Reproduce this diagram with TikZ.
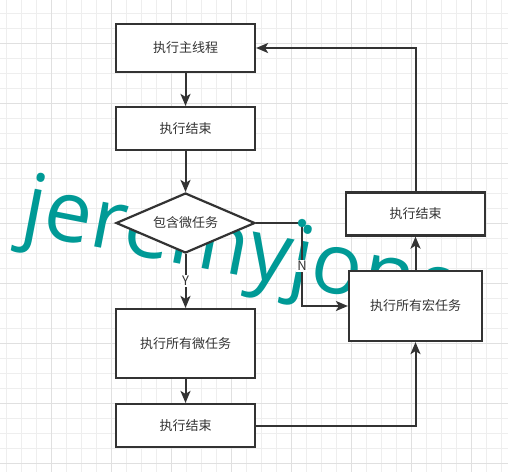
\documentclass[tikz,border=0pt]{standalone}
\usepackage{fontspec}
\setmainfont{Noto Sans CJK SC}
\newfontfamily\markfont{Open Sans}
\usepackage{xcolor}
\usetikzlibrary{shapes.geometric,arrows.meta}
\definecolor{ink}{HTML}{333333}
\definecolor{gridminor}{HTML}{EEEEEE}
\definecolor{gridmajor}{HTML}{E0E0E0}
\definecolor{markteal}{HTML}{009A96}
\newcommand\FlowGrid[2]{
  \def\W{#1} \def\H{#2}
  \foreach \x in {6,21,...,501}
  {
    \draw[gridminor,line width=1pt] (\x,0) -- (\x,\H);
  }
  \foreach \y in {13,28,...,463}
  {
    \draw[gridminor,line width=1pt] (0,\y) -- (\W,\y);
  }
  \foreach \x in {51,111,...,471}
  {
    \draw[gridmajor,line width=1pt] (\x,0) -- (\x,\H);
  }
  \foreach \y in {43,103,...,463}
  {
    \draw[gridmajor,line width=1pt] (0,\y) -- (\W,\y);
  }
}

\begin{document}
\begin{tikzpicture}[x=1pt, y=-1pt,
  box/.style={draw=ink, line width=2.2pt, fill=white, minimum width=139pt,
    inner sep=0pt, text=ink, font=\fontsize{13}{15}\selectfont},
  decision/.style={box, diamond, aspect=2.3, minimum height=60pt},
  flow/.style={draw=ink, line width=2pt,
    -{Stealth[length=12pt,width=10pt,inset=3pt]}},
  edgelabel/.style={fill=white, inner sep=1pt, text=ink,
    font=\fontsize{13}{15}\selectfont}]
\fill[white] (0,0) rectangle (508,472);
\useasboundingbox (0,0) rectangle (508,472);
\FlowGrid{508}{472}
\node[text=markteal, font=\markfont\fontsize{85}{85}\selectfont,
  rotate=-11, anchor=base] (mark) at (238,275) {jeremyjone};

\node[box, minimum height=48pt] (mainrun) at (185.5,48) {执行主线程};
\node[box, minimum height=43pt] (mainend) at (185.5,128.5) {执行结束};
\node[decision] (hasmicro) at (185.5,223) {包含微任务};
\node[box, minimum height=69pt] (microrun) at (185.5,343.5) {执行所有微任务};
\node[box, minimum height=43pt] (microend) at (185.5,425.5) {执行结束};
\node[box, minimum width=133pt, minimum height=70pt] (macrorun) at (415.5,306) {执行所有宏任务};
\node[box, minimum height=43pt] (macroend) at (415.5,214) {执行结束};
\coordinate (nbend) at (302,223);

\draw[flow] (mainrun) -- (mainend);
\draw[flow] (mainend) -- (hasmicro);
\draw[flow] (hasmicro) -- node[edgelabel] (ylabel) {Y} (microrun);
\draw[flow] (microrun) -- (microend);
\draw[flow] (microend) -| (macrorun);
\draw[flow] (macrorun) -- (macroend);
\draw[flow] (macroend) |- (mainrun);
\draw[flow] (hasmicro.east) -- (nbend) |- node[edgelabel, pos=0.26] (nlabel) {N} (macrorun);
% selected waypoint
\filldraw[markteal] (nbend) circle [radius=4pt];
\end{tikzpicture}
\end{document}
